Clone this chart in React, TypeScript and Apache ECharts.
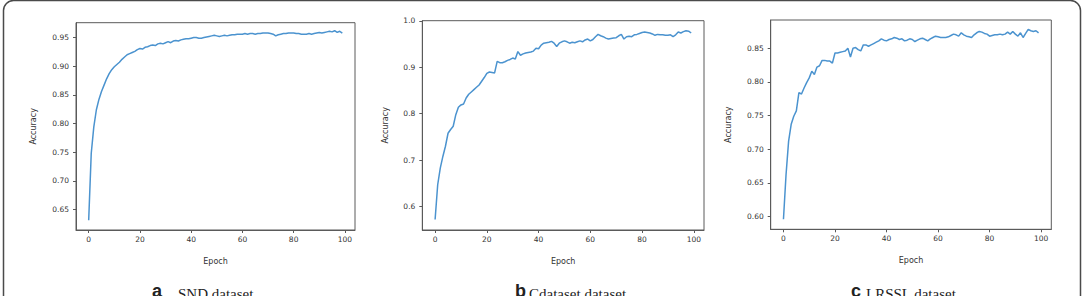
import React, { useEffect, useRef } from "react";
import * as echarts from "echarts";

const xTicks = [0, 20, 40, 60, 80, 100];
const yTicksA = [0.65, 0.7, 0.75, 0.8, 0.85, 0.9, 0.95];
const yTicksB = [0.6, 0.7, 0.8, 0.9, 1.0];
const yTicksC = [0.6, 0.65, 0.7, 0.75, 0.8, 0.85];

const accSND = [
  0.631, 0.748, 0.794, 0.824, 0.842, 0.856, 0.867, 0.878, 0.887, 0.894,
  0.899, 0.903, 0.907, 0.912, 0.916, 0.92, 0.922, 0.924, 0.926, 0.929,
  0.931, 0.93, 0.933, 0.934, 0.936, 0.937, 0.936, 0.939, 0.94, 0.939,
  0.941, 0.943, 0.941, 0.944, 0.945, 0.944, 0.946, 0.947, 0.948, 0.948,
  0.949, 0.95, 0.95, 0.949, 0.949, 0.95, 0.951, 0.952, 0.953, 0.954,
  0.953, 0.952, 0.953, 0.954, 0.953, 0.954, 0.955, 0.955, 0.956, 0.956,
  0.956, 0.957, 0.956, 0.957, 0.957, 0.956, 0.957, 0.957, 0.958, 0.958,
  0.958, 0.957, 0.956, 0.953, 0.955, 0.956, 0.957, 0.957, 0.958, 0.958,
  0.958, 0.957, 0.957, 0.956, 0.956, 0.956, 0.957, 0.956, 0.957, 0.958,
  0.959, 0.958, 0.959, 0.96, 0.961, 0.96, 0.962, 0.959, 0.961, 0.958,
];

const accCdataset = [
  0.572, 0.647, 0.683, 0.708, 0.73, 0.758, 0.766, 0.773, 0.798, 0.814,
  0.819, 0.821, 0.834, 0.842, 0.847, 0.852, 0.857, 0.862, 0.87, 0.878,
  0.887, 0.89, 0.889, 0.888, 0.913, 0.91, 0.91, 0.912, 0.915, 0.917,
  0.92, 0.918, 0.934, 0.926, 0.929, 0.931, 0.932, 0.933, 0.935, 0.941,
  0.94, 0.948, 0.952, 0.953, 0.954, 0.956, 0.952, 0.945, 0.952, 0.955,
  0.957, 0.955, 0.952, 0.954, 0.953, 0.955, 0.957, 0.955, 0.959, 0.961,
  0.957, 0.96, 0.966, 0.971, 0.968, 0.966, 0.963, 0.961, 0.962, 0.963,
  0.964, 0.968, 0.971, 0.961, 0.966, 0.967, 0.966, 0.97, 0.971, 0.973,
  0.975, 0.976, 0.975, 0.974, 0.972, 0.969, 0.971, 0.97, 0.97, 0.969,
  0.969, 0.97, 0.966, 0.97, 0.976, 0.974, 0.977, 0.979, 0.978, 0.974,
];

const accLRSSL = [
  0.596, 0.662, 0.712, 0.737, 0.749, 0.757, 0.784, 0.782, 0.791, 0.799,
  0.806, 0.816, 0.811, 0.822, 0.824, 0.832, 0.832, 0.831, 0.831, 0.828,
  0.843, 0.843, 0.844, 0.845, 0.846, 0.85, 0.837, 0.85, 0.851, 0.848,
  0.846, 0.855, 0.855, 0.853, 0.855, 0.857, 0.859, 0.861, 0.864, 0.862,
  0.861, 0.863, 0.864, 0.866, 0.865, 0.863, 0.864, 0.861, 0.862, 0.864,
  0.863, 0.86, 0.862, 0.864, 0.865, 0.863, 0.861, 0.864, 0.866, 0.868,
  0.867, 0.866, 0.866, 0.866, 0.867, 0.869, 0.871, 0.87, 0.868, 0.873,
  0.87, 0.868, 0.867, 0.866, 0.87, 0.873, 0.875, 0.874, 0.872, 0.871,
  0.868, 0.869, 0.87, 0.87, 0.871, 0.87, 0.871, 0.874, 0.871, 0.875,
  0.871, 0.868, 0.873, 0.866, 0.872, 0.878, 0.876, 0.875, 0.876, 0.873,
];

const captions = [
  { letter: "a", text: "SND dataset" },
  { letter: "b", text: "Cdataset dataset" },
  { letter: "c", text: "LRSSL dataset" },
];

const LINE = "#4b93cf";
const AXIS = "#5a5a5a";
const TXT = "#333";
const TICKFONT = "DejaVu Sans";

export default function App() {
  const ref = useRef<HTMLDivElement>(null);
  useEffect(() => {
    if (!ref.current) return;
    const chart = echarts.init(ref.current, null, { renderer: "svg" });

    const grids = [
      { left: 76, top: 22.7, width: 279, height: 207.3 },
      { left: 422.3, top: 20.7, width: 281.7, height: 209.3 },
      { left: 770.7, top: 20, width: 280.6, height: 209.3 },
    ];
    const yCfg = [
      { min: 0.614, max: 0.976, ticks: yTicksA, dec: 2, gap: 39 },
      { min: 0.5495, max: 1.0005, ticks: yTicksB, dec: 1, gap: 33 },
      { min: 0.581, max: 0.892, ticks: yTicksC, dec: 2, gap: 38.5 },
    ];
    const series = [accSND, accCdataset, accLRSSL];

    const xAxis = grids.map((_, i) => ({
      type: "value",
      gridIndex: i,
      min: -4.95,
      max: 103.95,
      name: "Epoch",
      nameLocation: "middle",
      nameGap: 27,
      nameTextStyle: { fontFamily: TICKFONT, fontSize: 8, color: TXT },
      splitLine: { show: false },
      axisLine: { show: true, onZero: false, lineStyle: { color: AXIS, width: 1 } },
      axisTick: { show: true, length: 3, customValues: xTicks, lineStyle: { color: AXIS } },
      axisLabel: {
        customValues: xTicks,
        margin: 5,
        fontFamily: TICKFONT,
        fontSize: 7.5,
        color: TXT,
      },
    }));

    const yAxis = yCfg.map((c, i) => ({
      type: "value",
      gridIndex: i,
      min: c.min,
      max: c.max,
      name: "Accuracy",
      nameLocation: "middle",
      nameGap: c.gap,
      nameRotate: 90,
      nameTextStyle: { fontFamily: TICKFONT, fontSize: 8, color: TXT },
      splitLine: { show: false },
      axisLine: { show: true, onZero: false, lineStyle: { color: AXIS, width: 1 } },
      axisTick: { show: true, length: 3, customValues: c.ticks, lineStyle: { color: AXIS } },
      axisLabel: {
        customValues: c.ticks,
        margin: 7,
        fontFamily: TICKFONT,
        fontSize: 7.5,
        color: TXT,
        formatter: (v: number) => v.toFixed(c.dec),
      },
    }));

    const capPos = [
      { lx: 152, tx: 178 },
      { lx: 515, tx: 529 },
      { lx: 851, tx: 866 },
    ];

    const graphic: any[] = [
      {
        type: "rect",
        shape: { x: 3.5, y: 0.5, width: 1077, height: 320, r: 10 },
        style: { fill: "none", stroke: "#4a4a4a", lineWidth: 1.5 },
        silent: true,
      },
    ];
    captions.forEach((c, i) => {
      graphic.push({
        type: "text",
        x: capPos[i].lx,
        y: 300,
        style: {
          text: c.letter,
          font: "bold 18px 'Liberation Sans'",
          fill: "#222",
          verticalAlign: "bottom",
        },
      });
      graphic.push({
        type: "text",
        x: capPos[i].tx,
        y: 301.5,
        style: {
          text: c.text,
          font: "15px 'Liberation Serif'",
          fill: "#222",
          verticalAlign: "bottom",
        },
      });
    });

    chart.setOption({
      animation: false,
      backgroundColor: "#ffffff",
      grid: grids.map((g) => ({
        ...g,
        show: true,
        borderColor: AXIS,
        borderWidth: 1,
        backgroundColor: "transparent",
        containLabel: false,
      })),
      xAxis,
      yAxis,
      series: series.map((vals, i) => ({
        type: "line",
        xAxisIndex: i,
        yAxisIndex: i,
        data: vals.map((v, k) => [k, v]),
        showSymbol: false,
        symbol: "none",
        lineStyle: { color: LINE, width: 1.5 },
        silent: true,
      })),
      graphic,
    });
    return () => chart.dispose();
  }, []);

  return (
    <div
      ref={ref}
      style={{ position: "absolute", left: 0, top: 0, width: 1092, height: 296 }}
    />
  );
}
